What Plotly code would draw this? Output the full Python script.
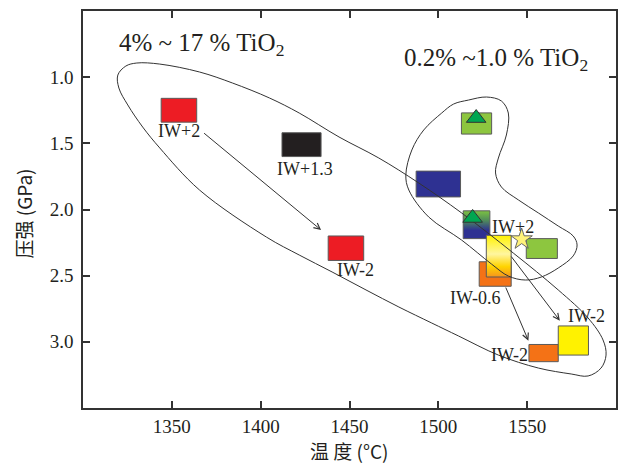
import plotly.graph_objects as go

# ---- data (temperature °C, pressure GPa) ----
box_t_lo = [1344, 1412, 1438, 1487.5, 1513, 1551, 1567.5, 1549.5, 1523, 1514, 1527]
box_t_hi = [1364, 1434, 1458, 1512.5, 1530, 1567.5, 1584.5, 1567, 1541, 1529, 1541]
box_p_lo = [1.16, 1.42, 2.20, 1.71, 1.27, 3.02, 2.88, 2.22, 2.395, 2.01, 2.195]
box_p_hi = [1.34, 1.60, 2.385, 1.905, 1.43, 3.15, 3.10, 2.37, 2.58, 2.22, 2.51]
box_fill = ["#ed1c24", "#231f20", "#ed1c24", "#2e3192", "#8dc63f", "#f47216",
            "#fff200", "#8dc63f", "#f47216", None, None]
box_grad = [None] * 9 + [
    [[0, "#7cc242"], [0.35, "#4f8a5a"], [0.7, "#2e3192"], [1, "#2e3192"]],
    [[0, "#fff200"], [0.45, "#fff6a0"], [0.75, "#ffd400"], [1, "#f7941d"]],
]

tri_t = [1521.3, 1519.3]
tri_p = [1.309, 2.064]
star_t = [1546.9]
star_p = [2.225]

label_text = ["IW+2", "IW+1.3", "IW-2", "IW+2", "IW-0.6", "IW-2", "IW-2"]
label_t = [1353.8, 1425.0, 1453.6, 1542.2, 1520.4, 1583.2, 1540.0]
label_p = [1.407, 1.694, 2.457, 2.132, 2.669, 2.805, 3.100]

arrow_t0 = [1367.3, 1540.4, 1537.6]
arrow_p0 = [1.414, 2.344, 2.578]
arrow_t1 = [1434.0, 1568.4, 1550.7]
arrow_p1 = [2.155, 2.840, 2.991]

# enclosing outlines
big_t = [1404.9, 1421.7, 1444.1, 1466.5, 1489.0, 1513.1, 1542.2, 1567.5, 1584.3, 1592.7,
         1594.4, 1591.6, 1584.3, 1574.8, 1556.3, 1533.8, 1511.4, 1496.3, 1477.8, 1459.3,
         1440.2, 1421.7, 1403.2, 1365.6, 1343.2, 1333.6, 1325.2, 1320.2, 1319.6, 1324.1,
         1330.3, 1343.2, 1365.6, 1384.1, 1404.9]
big_p = [1.157, 1.271, 1.452, 1.611, 1.800, 2.026, 2.329, 2.608, 2.820, 2.986,
         3.100, 3.198, 3.258, 3.243, 3.198, 3.100, 2.956, 2.858, 2.737, 2.608,
         2.472, 2.344, 2.208, 1.853, 1.535, 1.377, 1.210, 1.082, 0.984, 0.916,
         0.893, 0.901, 0.961, 1.044, 1.157]
small_t = [1508.6, 1517.0, 1527.1, 1535.5, 1539.4, 1538.3, 1533.8, 1532.2, 1535.5, 1545.1,
           1556.3, 1567.5, 1575.9, 1578.1, 1575.9, 1567.5, 1558.0, 1549.0, 1539.4, 1529.9,
           1513.1, 1494.6, 1483.4, 1481.7, 1485.1, 1491.8, 1501.9, 1508.6]
small_p = [1.203, 1.173, 1.150, 1.180, 1.271, 1.437, 1.611, 1.724, 1.830, 1.928,
           2.026, 2.125, 2.200, 2.268, 2.351, 2.442, 2.510, 2.533, 2.503, 2.412,
           2.231, 2.057, 1.853, 1.739, 1.550, 1.399, 1.271, 1.203]

x_ticks = [1350, 1400, 1450, 1500, 1550]
y_ticks = [1.0, 1.5, 2.0, 2.5, 3.0]

SERIF = "Liberation Serif"
CJK = "Noto Sans CJK SC"
INK = "#231f20"

fig = go.Figure()

# boxes
for i in range(len(box_t_lo)):
    xs = [box_t_lo[i], box_t_hi[i], box_t_hi[i], box_t_lo[i], box_t_lo[i]]
    ys = [box_p_lo[i], box_p_lo[i], box_p_hi[i], box_p_hi[i], box_p_lo[i]]
    kw = dict(x=xs, y=ys, mode="lines", fill="toself",
              line=dict(color="#5a5a5a", width=1), hoverinfo="skip", showlegend=False)
    if box_grad[i] is not None:
        kw["fillgradient"] = dict(type="vertical", colorscale=box_grad[i],
                                  start=box_p_lo[i], stop=box_p_hi[i])
    else:
        kw["fillcolor"] = box_fill[i]
    fig.add_trace(go.Scatter(**kw))

# outlines
fig.add_trace(go.Scatter(x=big_t, y=big_p, mode="lines",
                         line=dict(color="#333333", width=1, shape="spline", smoothing=1.0),
                         hoverinfo="skip", showlegend=False))
fig.add_trace(go.Scatter(x=small_t, y=small_p, mode="lines",
                         line=dict(color="#333333", width=1, shape="spline", smoothing=1.0),
                         hoverinfo="skip", showlegend=False))

# triangles and star
fig.add_trace(go.Scatter(x=tri_t, y=tri_p, mode="markers",
                         marker=dict(symbol="triangle-up", size=17, color="#00a651",
                                     line=dict(color="#333333", width=1)),
                         hoverinfo="skip", showlegend=False))
fig.add_trace(go.Scatter(x=star_t, y=star_p, mode="markers",
                         marker=dict(symbol="star", size=16, color="#fff27a",
                                     line=dict(color="#666666", width=1)),
                         hoverinfo="skip", showlegend=False))

annotations = []
for t0, p0, t1, p1 in zip(arrow_t0, arrow_p0, arrow_t1, arrow_p1):
    annotations.append(dict(x=t1, y=p1, ax=t0, ay=p0, xref="x", yref="y",
                            axref="x", ayref="y", showarrow=True, arrowhead=5,
                            arrowsize=1.2, arrowwidth=1, arrowcolor="#333333", text=""))
for txt, t, p in zip(label_text, label_t, label_p):
    annotations.append(dict(x=t, y=p, xref="x", yref="y", text=txt, showarrow=False,
                            font=dict(family=SERIF, size=18, color=INK)))

annotations.append(dict(x=1366.7, y=0.75, xref="x", yref="y", showarrow=False,
                        text="4% ~ 17 % TiO<sub>2</sub>",
                        font=dict(family=SERIF, size=25, color=INK)))
annotations.append(dict(x=1532.2, y=0.87, xref="x", yref="y", showarrow=False,
                        text="0.2% ~1.0 % TiO<sub>2</sub>",
                        font=dict(family=SERIF, size=25, color=INK)))
# axis titles
annotations.append(dict(x=0.5, y=0, xref="paper", yref="paper", yanchor="middle",
                        yshift=-42, showarrow=False, text="温 度 (°C)",
                        font=dict(family=CJK, size=19, color=INK)))
annotations.append(dict(x=0, y=0.5, xref="paper", yref="paper", xanchor="center",
                        xshift=-60, yshift=-4, showarrow=False, textangle=-90,
                        text="压强 (GPa)", font=dict(family=CJK, size=19, color=INK)))

axis_common = dict(showgrid=False, zeroline=False, showline=True, linecolor="#333333",
                   linewidth=1.5, mirror="ticks", ticks="inside", ticklen=7,
                   tickwidth=1.5, tickcolor="#333333",
                   tickfont=dict(family=SERIF, size=19, color=INK))

fig.update_layout(
    width=622, height=464,
    margin=dict(l=83, r=4, t=11, b=56),
    paper_bgcolor="white", plot_bgcolor="white",
    xaxis=dict(range=[1300, 1600], tickvals=x_ticks, ticklabelstandoff=0, **axis_common),
    yaxis=dict(range=[3.5, 0.5], tickvals=y_ticks, tickformat=".1f", ticklabelstandoff=4,
               **axis_common),
    annotations=annotations,
)

fig.write_html("out.html")
